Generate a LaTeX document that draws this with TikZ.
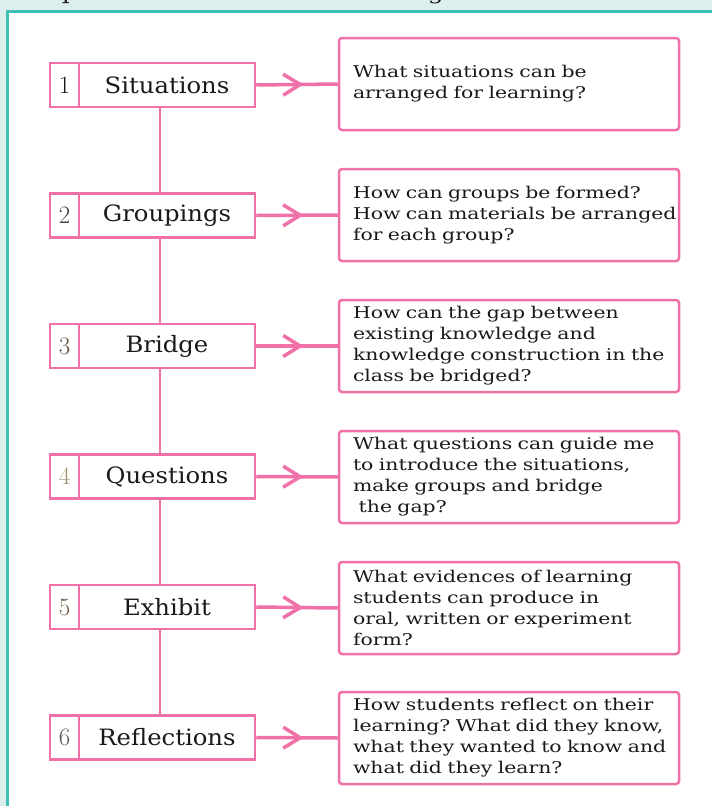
\documentclass[tikz,border=0pt]{standalone}
\usepackage{fontspec}
\newfontfamily\qfont[FakeStretch=1.26]{DejaVu Serif}
\newfontfamily\lfont[FakeStretch=1.08]{DejaVu Serif}
\newcommand{\qsetup}{\qfont\fontsize{16.2}{21}\selectfont\hyphenpenalty=10000 \exhyphenpenalty=10000 \hbadness=10000 \hfuzz=20pt\relax}
\usetikzlibrary{arrows.meta,decorations.markings}
\definecolor{pinkc}{RGB}{240,112,168}
\definecolor{tealc}{RGB}{62,192,182}
\definecolor{tealbg}{RGB}{220,239,237}
\definecolor{ink}{RGB}{28,25,26}
\definecolor{d1}{RGB}{28,25,26}
\definecolor{d2}{RGB}{70,66,60}
\definecolor{d3}{RGB}{100,82,60}
\definecolor{d4}{RGB}{165,148,115}
\definecolor{d5}{RGB}{105,88,62}
\definecolor{d6}{RGB}{95,90,85}
\frenchspacing
\tikzset{
  numcell/.style={draw=pinkc, line width=2.5pt, minimum width=29pt, minimum height=44pt, inner sep=0pt, font=\fontsize{25}{25}\selectfont},
  labcell/.style={draw=pinkc, line width=2.5pt, minimum width=176pt, minimum height=44pt, inner sep=0pt, text=ink, font=\lfont\fontsize{22.5}{23}\selectfont},
  qbox/.style={draw=pinkc, line width=2.5pt, rounded corners=3pt, minimum width=340pt, minimum height=92pt, text width=312pt, inner xsep=14pt, inner ysep=0pt, align=left, text=ink, font=\qsetup},
  spine/.style={draw=pinkc, line width=2.5pt},
  conn/.style={draw=pinkc, line width=3.5pt, postaction={decorate}, decoration={markings, mark=at position 0.58 with {\arrow{Straight Barb[length=17pt, width=21pt]}}}}
}
\begin{document}
\begin{tikzpicture}[x=1pt,y=-1pt]
\useasboundingbox (0,0) rectangle (712,806);
\fill[tealbg] (0,0) rectangle (712,806);
\fill[white] (7.5,11) rectangle (712,806);
\begin{scope}
\clip (0,0) rectangle (712,9.5);
\node[anchor=base, text=ink, font=\qfont\fontsize{20}{20}\selectfont, inner sep=0pt] (tp) at (70,-1) {p};
\node[anchor=base, text=ink, font=\qfont\fontsize{20}{20}\selectfont, inner sep=0pt] (tg) at (436,-1) {g};
\end{scope}
\draw[tealc, line width=3pt] (7.5,806) -- (7.5,11) -- (712,11);
\coordinate (sx) at (160,0);

\foreach \i/\y/\lab/\dc in {1/85/Situations/d1, 2/215.5/Groupings/d2, 3/346/Bridge/d3, 4/476.5/Questions/d4, 5/607/Exhibit/d5, 6/737.5/Reflections/d6}{
  \node[numcell, text=\dc] (N\i) at (64.5,\y) {\i};
  \node[labcell] (B\i) at (167,\y) {\lab};
}

\node[qbox] (Q1) at (509,84) {What situations can be\\arranged for learning?};
\node[qbox] (Q2) at (509,215) {How can groups be formed?\\\mbox{How can materials be arranged}\\for each group?};
\node[qbox] (Q3) at (509,346) {How can the gap between\\existing knowledge and\\\mbox{knowledge construction in the}\\class be bridged?};
\node[qbox] (Q4) at (509,477) {What questions can guide me\\to introduce the situations,\\make groups and bridge\\\hspace*{0.35em}the gap?};
\node[qbox] (Q5) at (509,608) {What evidences of learning\\students can produce in\\oral, written or experiment\\form?};
\node[qbox] (Q6) at (509,738) {\makebox[305pt][s]{How students reflect on their}\\\makebox[305pt][s]{learning? What did they know,}\\\makebox[305pt][s]{what they wanted to know and}\\what did they learn?};

\foreach \i in {1,...,6}{
  \draw[conn] (B\i.east) -- (Q\i.west);
}
\foreach \i/\j in {1/2,2/3,3/4,4/5,5/6}{
  \draw[spine] (sx |- B\i.south) -- (sx |- B\j.north);
}
\end{tikzpicture}
\end{document}
